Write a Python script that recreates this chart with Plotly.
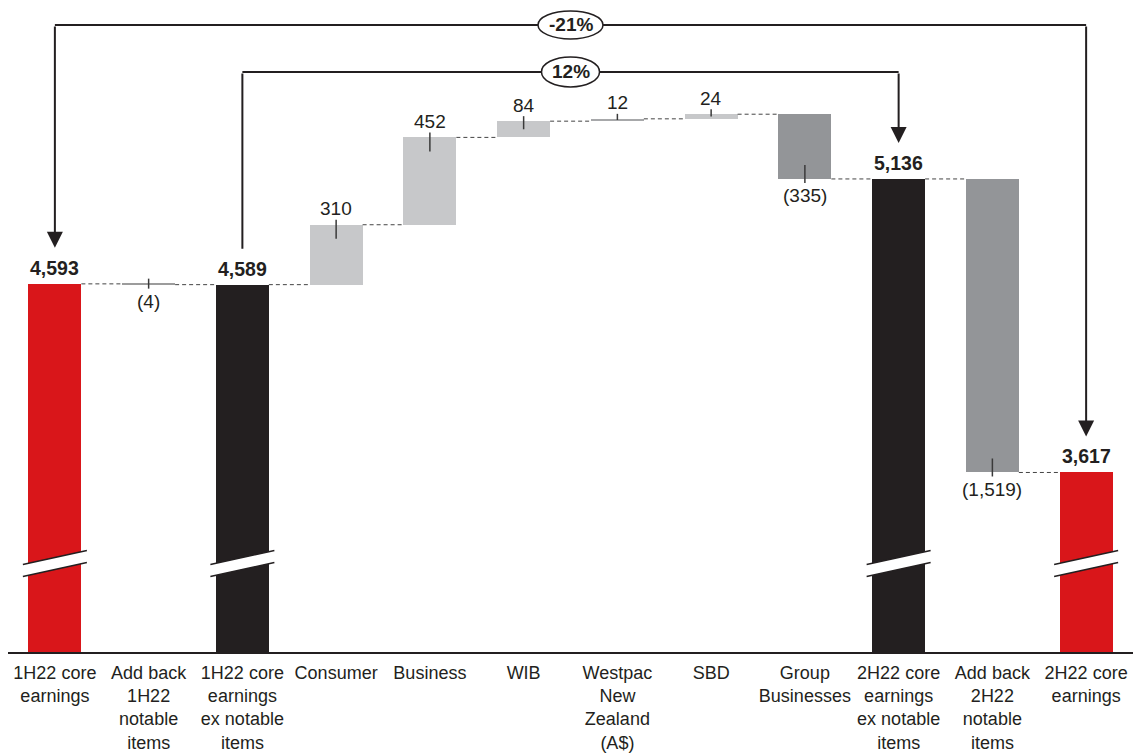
import plotly.graph_objects as go

# ---- data -------------------------------------------------------------
categories = [
    "1H22 core<br>earnings",
    "Add back<br>1H22<br>notable<br>items",
    "1H22 core<br>earnings<br>ex notable<br>items",
    "Consumer",
    "Business",
    "WIB",
    "Westpac<br>New<br>Zealand<br>(A$)",
    "SBD",
    "Group<br>Businesses",
    "2H22 core<br>earnings<br>ex notable<br>items",
    "Add back<br>2H22<br>notable<br>items",
    "2H22 core<br>earnings",
]
values = [4593, -4, 4589, 310, 452, 84, 12, 24, -335, 5136, -1519, 3617]
measures = ["total", "relative", "total", "relative", "relative", "relative",
            "relative", "relative", "relative", "total", "relative", "total"]

# ---- style ------------------------------------------------------------
RED = "#d9161a"
BLACK = "#231f20"
LIGHT = "#c7c8ca"
DARK = "#939598"
MID = "#a7a8aa"
bar_colors = [RED, "#9c9c9c", BLACK, LIGHT, LIGHT, LIGHT, MID, LIGHT, DARK,
              BLACK, DARK, RED]
FONT = "Liberation Sans, Arial, sans-serif"

W, H = 1137, 754
M_L, M_R, M_T, M_B = 8, 4, 0, 102
Y0, Y1 = 2688, 6062
PLOT_H = H - M_T - M_B
PX_PER_UNIT = PLOT_H / (Y1 - Y0)
BAR_W = 0.565
AXIS_BREAK = 3146          # level where the broken-axis mark is drawn
BRACKET_OUTER = 5933
BRACKET_INNER = 5690

# ---- running levels ---------------------------------------------------
bases, heights, tops, bottoms = [], [], [], []
level = 0
for v, m in zip(values, measures):
    if m == "total":
        bases.append(0)
        heights.append(v)
        level = v
        tops.append(v)
        bottoms.append(0)
    else:
        bases.append(level)
        heights.append(v)
        tops.append(max(level, level + v))
        bottoms.append(min(level, level + v))
        level += v

x = list(range(len(values)))

fig = go.Figure()
fig.add_trace(go.Bar(
    x=x, y=heights, base=bases, width=BAR_W,
    marker=dict(color=bar_colors, line=dict(width=0)),
    hoverinfo="skip", showlegend=False,
))

shapes = []
annotations = []

# dashed connectors between neighbouring bars
level = 0
for i, (v, m) in enumerate(zip(values, measures)):
    level = v if m == "total" else level + v
    if i < len(values) - 1:
        shapes.append(dict(type="line", xref="x", yref="y",
                           x0=i + BAR_W / 2, x1=i + 1 - BAR_W / 2,
                           y0=level, y1=level,
                           line=dict(color="#444444", width=1, dash="4px,3px")))


def fmt(v):
    s = f"{abs(v):,}"
    return f"({s})" if v < 0 else s


# value labels and their small leader ticks
for i, (v, m) in enumerate(zip(values, measures)):
    if m == "total":
        annotations.append(dict(x=i, y=tops[i], xref="x", yref="y",
                                text=f"<b>{fmt(v)}</b>", showarrow=False,
                                yanchor="middle", yshift=16,
                                font=dict(family=FONT, size=19.5, color=BLACK)))
        continue
    bar_px = abs(v) * PX_PER_UNIT
    inner = min(14, bar_px / 2)
    if v >= 0:
        shapes.append(dict(type="line", xref="x", yref="y",
                           ysizemode="pixel", yanchor=tops[i],
                           x0=i, x1=i, y0=-inner, y1=5,
                           line=dict(color="#3a3a3a", width=1.5)))
        annotations.append(dict(x=i, y=tops[i], xref="x", yref="y",
                                text=fmt(v), showarrow=False,
                                yanchor="middle", yshift=16,
                                font=dict(family=FONT, size=19, color=BLACK)))
    else:
        shapes.append(dict(type="line", xref="x", yref="y",
                           ysizemode="pixel", yanchor=bottoms[i],
                           x0=i, x1=i, y0=-4, y1=inner if bar_px > 2 else 6,
                           line=dict(color="#3a3a3a", width=1.5)))
        annotations.append(dict(x=i, y=bottoms[i], xref="x", yref="y",
                                text=fmt(v), showarrow=False,
                                yanchor="middle", yshift=-17,
                                font=dict(family=FONT, size=19, color=BLACK)))

# broken-axis marks on the total bars
for i, m in enumerate(measures):
    if m != "total":
        continue
    common = dict(xref="x", yref="y", xsizemode="pixel", ysizemode="pixel",
                  xanchor=i, yanchor=AXIS_BREAK)
    shapes.append(dict(type="path", path="M-32,-13 L32,1 L32,13 L-32,-1 Z",
                       fillcolor="white", line=dict(width=0), **common))
    shapes.append(dict(type="path", path="M-32,-1 L32,13",
                       line=dict(color=BLACK, width=1.5), **common))
    shapes.append(dict(type="path", path="M-32,-13 L32,1",
                       line=dict(color=BLACK, width=1.5), **common))


# percentage-change brackets
def bracket(i0, i1, yb, pct, head_left, head_right, ew, eh):
    shapes.append(dict(type="line", xref="x", yref="y", x0=i0, x1=i1,
                       y0=yb, y1=yb, line=dict(color=BLACK, width=2)))
    for idx, head in ((i0, head_left), (i1, head_right)):
        annotations.append(dict(x=idx, y=tops[idx], ax=idx, ay=yb,
                                xref="x", yref="y", axref="x", ayref="y",
                                text="", showarrow=True,
                                arrowhead=2 if head else 0,
                                arrowsize=1.6, arrowwidth=2,
                                arrowcolor=BLACK, standoff=36))
    xm = (i0 + i1) / 2
    shapes.append(dict(type="circle", xref="x", yref="y",
                       xsizemode="pixel", ysizemode="pixel",
                       xanchor=xm, yanchor=yb,
                       x0=-ew / 2, x1=ew / 2, y0=-eh / 2, y1=eh / 2,
                       fillcolor="white", line=dict(color=BLACK, width=1.5)))
    annotations.append(dict(x=xm, y=yb, xref="x", yref="y",
                            text=f"<b>{pct}</b>", showarrow=False,
                            yanchor="middle",
                            font=dict(family=FONT, size=19, color=BLACK)))


pct_outer = round((values[11] / values[0] - 1) * 100)
pct_inner = round((values[9] / values[2] - 1) * 100)
bracket(0, 11, BRACKET_OUTER, f"{pct_outer}%", True, True, 65, 28)
bracket(2, 9, BRACKET_INNER, f"{pct_inner}%", False, True, 58, 30)

fig.update_layout(
    width=W, height=H,
    margin=dict(l=M_L, r=M_R, t=M_T, b=M_B),
    paper_bgcolor="white", plot_bgcolor="white",
    shapes=shapes, annotations=annotations,
    font=dict(family=FONT, color=BLACK),
    bargap=0,
)
fig.update_xaxes(
    range=[-0.5, len(values) - 0.5],
    tickvals=x, ticktext=categories,
    showgrid=False, zeroline=False,
    showline=True, linecolor=BLACK, linewidth=2,
    ticks="", ticklabelstandoff=3,
    tickfont=dict(family=FONT, size=18, color=BLACK),
    fixedrange=True,
)
fig.update_yaxes(range=[Y0, Y1], visible=False, fixedrange=True)

fig.write_html("out.html", config={"displayModeBar": False})
